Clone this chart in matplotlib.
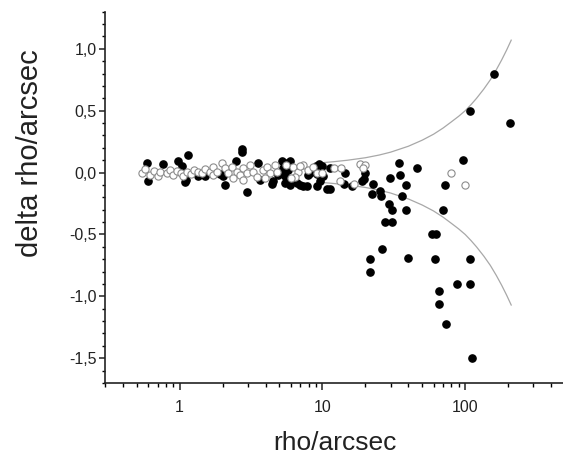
import matplotlib
matplotlib.use('Agg')
import matplotlib.pyplot as plt
from matplotlib.ticker import FixedLocator, FuncFormatter, MultipleLocator, LogLocator, NullFormatter
import numpy as np

plt.rcParams['font.family'] = ['Liberation Sans', 'DejaVu Sans']

# filled points (rho, delta rho)
filled_x = [0.59, 0.60, 0.76, 0.97, 1.14, 1.09, 1.10, 1.04, 1.35, 1.50,
            2.0, 1.92, 2.08, 2.48, 2.72, 2.75, 2.98, 3.56, 3.66, 4.53, 4.42,
            5.18, 5.47, 5.93, 5.30, 5.70, 5.2, 4.9, 5.47, 5.47, 5.93, 6.6,
            6.96, 7.33, 7.75, 7.95, 8.2, 9.0,
            9.9, 9.4, 10.1, 9.1, 9.6, 9.1, 10.8, 11.3, 11.3, 14.4, 14.2, 16.1,
            19.6, 18.8, 19.8, 22.7, 25.2, 22.3, 25.7,
            34.3, 45.6, 29.6, 34.8, 38.8, 35.8, 29.3, 30.8, 38.2, 69.6, 27.4, 30.6,
            58.6, 62.9, 26.1, 21.5, 39.6, 61.5, 107.5, 21.5, 88.2, 107.5,
            65.3, 65.3, 73.9, 112.3, 72.0, 96.5, 107.5, 159.0, 207.0]
filled_y = [0.075, -0.07, 0.07, 0.09, 0.14, -0.08, -0.06, 0.05, -0.03, -0.03,
            -0.03, -0.01, -0.10, 0.09, 0.17, 0.19, -0.16, 0.08, -0.06, -0.07, -0.09,
            0.09, 0.08, 0.09, 0.035, 0.02, 0.0, -0.02, -0.03, -0.085, -0.10, -0.085,
            -0.10, -0.11, -0.11, -0.02, 0.0, 0.05,
            0.05, 0.07, -0.03, -0.01, -0.07, -0.11, -0.135, -0.135, 0.035, 0.0, -0.09, -0.11,
            -0.05, -0.07, 0.0, -0.094, -0.145, -0.17, -0.19,
            0.08, 0.04, -0.04, -0.02, -0.10, -0.19, -0.25, -0.30, -0.30, -0.30, -0.40, -0.40,
            -0.50, -0.50, -0.62, -0.70, -0.69, -0.70, -0.70, -0.80, -0.90, -0.90,
            -0.96, -1.06, -1.22, -1.50, -0.10, 0.10, 0.50, 0.80, 0.40]

# open points
open_x = [0.549, 0.574, 0.622, 0.656, 0.704, 0.730, 0.814, 0.858, 0.905, 0.956,
          1.024, 1.063, 1.123, 1.203, 1.27, 1.354, 1.44, 1.508, 1.634, 1.723,
          1.723, 1.82, 1.97, 2.08, 2.19, 2.32, 2.51, 2.65, 2.80, 2.95, 3.11, 3.28,
          3.85, 4.07, 4.30, 4.65, 4.78, 6.25, 6.77, 7.34, 7.95, 8.60, 9.1,
          2.38, 2.80, 3.46, 3.96, 6.42, 5.6, 6.0, 7.0,
          9.9, 12.0, 13.5, 13.2, 16.6, 18.3, 19.8, 19.3, 80.0, 99.0]
open_y = [-0.005, 0.027, -0.019, 0.016, -0.027, 0.008, -0.005, 0.022, -0.019, 0.016,
          -0.005, -0.027, 0.008, -0.01, 0.022, 0.008, -0.005, 0.027, 0.008, -0.019,
          0.048, 0.008, 0.076, 0.035, -0.005, 0.048, 0.008, -0.019, 0.035, -0.005, 0.062, 0.008,
          0.022, 0.048, -0.005, 0.062, 0.008, 0.048, 0.008, 0.062, 0.022, 0.048, -0.005,
          -0.045, -0.059, -0.032, -0.045, -0.032, 0.06, -0.04, 0.05,
          0.0, 0.04, 0.035, -0.07, -0.09, 0.07, 0.06, 0.035, 0.0, -0.10]

# envelope curves
curve_x = [10, 12, 15, 20, 25, 30, 40, 50, 60, 70, 80, 90, 100, 110, 120, 135,
           150, 165, 180, 195, 210]
curve_hi = [0.08, 0.088, 0.10, 0.12, 0.142, 0.165, 0.213, 0.262, 0.31, 0.36, 0.41,
            0.455, 0.50, 0.55, 0.60, 0.675, 0.75, 0.83, 0.91, 0.99, 1.07]
curve_lo = [-0.08, -0.088, -0.10, -0.12, -0.142, -0.165, -0.213, -0.262, -0.31, -0.36, -0.41,
            -0.455, -0.50, -0.55, -0.60, -0.675, -0.75, -0.83, -0.91, -0.99, -1.07]

fig = plt.figure(figsize=(5.63, 4.57), dpi=100)
ax = fig.add_axes([105 / 563, 74 / 457, 460 / 563, 371.3 / 457])

ax.plot(curve_x, curve_hi, color='#a8a8a8', lw=0.9, zorder=1)
ax.plot(curve_x, curve_lo, color='#a8a8a8', lw=0.9, zorder=1)
ax.plot(filled_x, filled_y, 'o', ms=5.2, color='black', mec='black', zorder=2)
ax.plot(open_x, open_y, 'o', ms=5.2, mfc='white', mec='#8c8c8c', mew=0.8, zorder=3)

ax.set_xscale('log')
ax.set_xlim(0.3, 500)
ax.set_ylim(-1.7, 1.3)

for s in ['top', 'right']:
    ax.spines[s].set_visible(False)
for s in ['left', 'bottom']:
    ax.spines[s].set_linewidth(1.2)
    ax.spines[s].set_color('#222222')

ax.yaxis.set_major_locator(FixedLocator([-1.5, -1.0, -0.5, 0.0, 0.5, 1.0]))
ax.yaxis.set_minor_locator(MultipleLocator(0.1))
ax.yaxis.set_major_formatter(FuncFormatter(lambda v, p: f'{v:.1f}'.replace('.', ',')))
ax.xaxis.set_major_locator(FixedLocator([1, 10, 100]))
ax.xaxis.set_major_formatter(FuncFormatter(lambda v, p: f'{v:g}'))
ax.xaxis.set_minor_locator(LogLocator(base=10, subs=np.arange(2, 10), numticks=20))
ax.xaxis.set_minor_formatter(NullFormatter())

ax.tick_params(axis='y', which='major', direction='out', length=4, width=1.1, pad=2,
               labelsize=11.5, colors='#222222')
ax.tick_params(axis='y', which='minor', direction='out', length=2.5, width=1.0)
ax.tick_params(axis='x', which='major', direction='out', length=5, width=1.1, pad=7,
               labelsize=11.5, colors='#222222')
ax.tick_params(axis='x', which='minor', direction='out', length=3, width=1.0)

ax.set_xlabel('rho/arcsec', fontsize=19, color='#222222', va='center', ha='center')
ax.xaxis.set_label_coords(0.5, -0.1616)
ax.set_ylabel('delta rho/arcsec', fontsize=21, color='#222222', va='center', ha='center')
ax.yaxis.set_label_coords(-0.163, 0.618)

fig.savefig('out.png', dpi=100)
